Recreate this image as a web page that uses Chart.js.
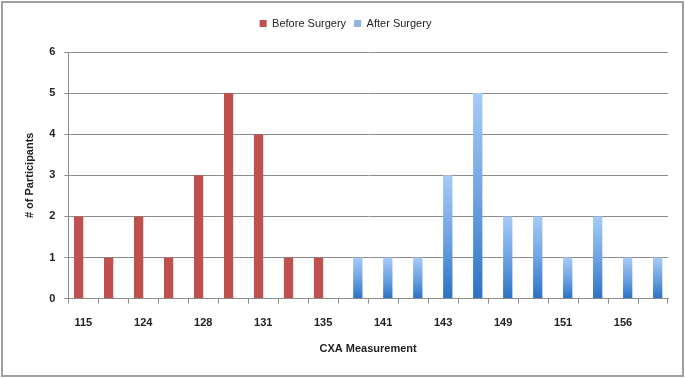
<!DOCTYPE html>
<html>
<head>
<meta charset="utf-8">
<script src="https://cdn.jsdelivr.net/npm/chart.js@4/dist/chart.umd.min.js"></script>
<style>
  html, body { margin: 0; padding: 0; background: #fff; }
  #wrap { width: 685px; height: 378px; position: relative; }
</style>
</head>
<body>
<div id="wrap"><canvas id="c" width="685" height="378"></canvas></div>
<script>
// CXA measurement categories (odd ones are not labelled in the reference)
const categories = ['115','120','124','126','128','130','131','133','135','138',
                    '141','142','143','146','149','150','151','153','156','158'];
const beforeSurgery = [2, 1, 2, 1, 3, 5, 4, 1, 1, null, null, null, null, null, null, null, null, null, null, null];
const afterSurgery  = [null, null, null, null, null, null, null, null, null, 1, 1, 1, 3, 5, 2, 2, 1, 2, 1, 1];
const yTicks = [0, 1, 2, 3, 4, 5, 6];

const FONT = "'Liberation Sans', Arial, sans-serif";

function blueGradient(ctx) {
  const chart = ctx.chart;
  if (ctx.type !== 'data' || !chart.chartArea) return '#8DB4E2';
  const y = chart.scales.y;
  const v = ctx.raw;
  if (v == null) return '#8DB4E2';
  const top = y.getPixelForValue(v);
  const bottom = y.getPixelForValue(0);
  const g = chart.ctx.createLinearGradient(0, top, 0, bottom);
  g.addColorStop(0, '#A7CBF6');
  g.addColorStop(0.5, '#6FA3E3');
  g.addColorStop(1, '#2C72C4');
  return g;
}

const legendSpacer = {
  id: 'legendSpacer',
  beforeInit(chart) {
    const orig = chart.legend.fit;
    chart.legend.fit = function () { orig.call(this); this.height += 13; };
  }
};

const frame = {
  id: 'frame',
  afterDraw(chart) {
    const c = chart.ctx;
    c.save();
    c.strokeStyle = '#9f9f9f';
    c.lineWidth = 2;
    c.strokeRect(2, 2, chart.width - 4, chart.height - 4);
    c.restore();
  }
};

new Chart(document.getElementById('c'), {
  type: 'bar',
  data: {
    labels: categories,
    datasets: [
      { label: 'Before Surgery', data: beforeSurgery, backgroundColor: '#C0504D' },
      { label: 'After Surgery', data: afterSurgery, backgroundColor: blueGradient }
    ]
  },
  options: {
    responsive: false,
    animation: false,
    categoryPercentage: 0.62,
    barPercentage: 1.0,
    layout: { padding: { top: 10, left: 23, right: 17, bottom: 22 } },
    plugins: {
      legend: {
        position: 'top',
        labels: {
          boxWidth: 7, boxHeight: 7, padding: 8,
          color: '#222',
          font: { family: FONT, size: 11 }
        }
      },
      tooltip: { enabled: false }
    },
    scales: {
      x: {
        grid: { offset: true, drawOnChartArea: false, drawTicks: true, tickLength: 5, color: '#8c8c8c' },
        border: { display: true, color: '#8c8c8c', width: 1 },
        ticks: {
          autoSkip: false, maxRotation: 0, padding: 13, color: '#222',
          font: { family: FONT, size: 11, weight: 'bold' },
          callback: function (val, i) { return i % 2 === 0 ? categories[i] : ''; }
        },
        title: {
          display: true, text: 'CXA Measurement', color: '#222',
          font: { family: FONT, size: 11, weight: 'bold' },
          padding: { top: 0, bottom: 0 }
        }
      },
      y: {
        min: yTicks[0], max: yTicks[yTicks.length - 1],
        afterBuildTicks: (axis) => { axis.ticks = yTicks.map(v => ({ value: v })); },
        grid: { color: '#8c8c8c', lineWidth: 1, tickLength: 4 },
        border: { display: true, color: '#8c8c8c', width: 1 },
        ticks: {
          padding: 9, color: '#222',
          font: { family: FONT, size: 11, weight: 'bold' }
        },
        title: {
          display: true, text: '# of Participants', color: '#222',
          font: { family: FONT, size: 11, weight: 'bold' },
          padding: { top: 0, bottom: 4 }
        }
      }
    }
  },
  plugins: [legendSpacer, frame]
});
</script>
</body>
</html>
